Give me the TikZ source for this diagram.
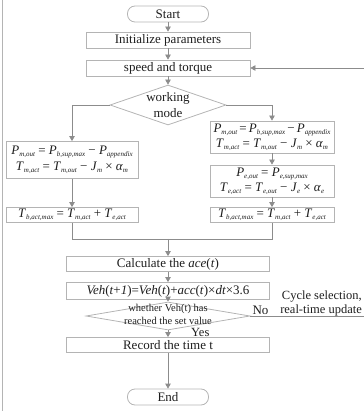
\documentclass[tikz,border=0pt]{standalone}
\usepackage{fontspec}
\setmainfont{Liberation Serif}
\usetikzlibrary{shapes.geometric,arrows.meta}
\definecolor{boxc}{HTML}{B4B4B4}
\definecolor{linec}{HTML}{8C8C8C}
\definecolor{txt}{HTML}{1E1E1E}
\newcommand{\sbs}[1]{\raisebox{-0.35ex}{\fontsize{7}{8}\selectfont\itshape #1}}
\newcommand{\vr}[2]{\textit{#1}\sbs{#2}}
\begin{document}
\begin{tikzpicture}[x=1pt,y=-1pt,
  font=\fontsize{13}{15}\selectfont,
  box/.style={draw=boxc, line width=0.8pt, rectangle, inner sep=0pt, text=txt},
  term/.style={box, rounded corners=7.5pt},
  dia/.style={draw=boxc, line width=0.8pt, diamond, inner sep=0pt},
  lbl/.style={text=txt, inner sep=1pt},
  arr/.style={draw=linec, line width=0.8pt, -{Triangle[width=5.5pt,length=5pt]}},
  ln/.style={draw=linec, line width=0.8pt},
]
\useasboundingbox (0,0) rectangle (363,411);
\draw[draw=boxc, line width=0.8pt] (2,0) -- (2,411);

% top part
\node[term, minimum width=81pt, minimum height=16pt] (start) at (168,14) {Start};
\node[box, minimum width=164pt, minimum height=16pt] (init) at (168,40) {Initialize parameters};
\node[box, minimum width=164pt, minimum height=16pt] (speed) at (168,68) {speed and torque};
\node[dia, minimum width=116pt, minimum height=40pt] (mode) at (168,105) {};
\node[lbl, align=center, font=\fontsize{13}{16}\selectfont] (modet) at (mode) {working\\mode};

% left column
\node[box, minimum width=132pt, minimum height=37pt, align=center] (l1) at (72,160)
  {\vr{P}{m,out} = \vr{P}{b,sup,max} − \vr{P}{appendix}\\[1pt]
   \vr{T}{m,act} = \vr{T}{m,out} − \vr{J}{m} × \textit{α}\sbs{m}};
\node[box, minimum width=132pt, minimum height=15pt] (l3) at (72,215)
  {\vr{T}{b,act,max} = \vr{T}{m,act} + \vr{T}{e,act}};

% right column
\node[box, minimum width=124pt, minimum height=32pt, align=center] (r1) at (272,137)
  {\vr{P}{m,out}\,=\,\vr{P}{b,sup,max}\,−\,\vr{P}{appendix}\\
   \vr{T}{m,act} = \vr{T}{m,out} − \vr{J}{m} × \textit{α}\sbs{m}};
\node[box, minimum width=124pt, minimum height=32pt, align=center] (r2) at (272,181)
  {\vr{P}{e,out} = \vr{P}{e,sup,max}\\
   \vr{T}{e,act} = \vr{T}{e,out} − \vr{J}{e} × \textit{α}\sbs{e}};
\node[box, minimum width=124pt, minimum height=15pt] (r3) at (272,215)
  {\vr{T}{b,act,max} = \vr{T}{m,act} + \vr{T}{e,act}};

% bottom part
\node[box, minimum width=203pt, minimum height=15pt] (calc) at (168,264)
  {Calculate the \textit{ace}(\textit{t})};
\node[box, minimum width=203pt, minimum height=17pt] (veh) at (168,291)
  {\textit{Veh}(\textit{t}+\textit{1})=\textit{Veh}(\textit{t})+\textit{acc}(\textit{t})×\textit{dt}×3.6};
\node[dia, minimum width=164pt, minimum height=28pt] (chk) at (168,316) {};
\node[lbl, align=center, font=\fontsize{10.5}{13}\selectfont] (chkt) at ([yshift=1.5pt]chk.center) {whether Veh(t) has\\reached the set value};
\node[box, minimum width=203pt, minimum height=15pt] (rec) at (168,345) {Record the time t};
\node[term, minimum width=81pt, minimum height=16pt] (end) at (168,397) {End};

% labels
\node[lbl, anchor=base west, font=\fontsize{12.5}{14}\selectfont] (yes) at (190,336) {Yes};
\node[lbl, anchor=south west] (no) at ([xshift=1pt]chk.east) {No};
\node[lbl, anchor=south east, align=right, font=\fontsize{12.5}{14}\selectfont] (cyc) at (363,317)
  {Cycle selection,\\real-time update};

% connectors
\draw[arr] (start) -- (init);
\draw[arr] (init) -- (speed);
\draw[arr] (speed) -- (mode);
\draw[arr] (mode.west) -| (l1.north);
\draw[arr] (mode.east) -| (r1.north);
\draw[arr] (r1) -- (r2);
\draw[arr] (r2) -- (r3);
\draw[arr] (l1) -- (l3);
\draw[ln] (l3.south) -- ++(0,16) coordinate (mL) -| (r3.south);
\coordinate (mrg) at (calc.north |- mL);
\draw[arr] (mrg) -- (calc.north);
\draw[arr] (calc) -- (veh);
\draw[arr] (veh) -- (chk);
\draw[arr] (chk) -- (rec);
\draw[arr] (rec) -- (end);
\draw[arr] (chk.east) -- ++(120,0) |- (speed.east);
\end{tikzpicture}
\end{document}
